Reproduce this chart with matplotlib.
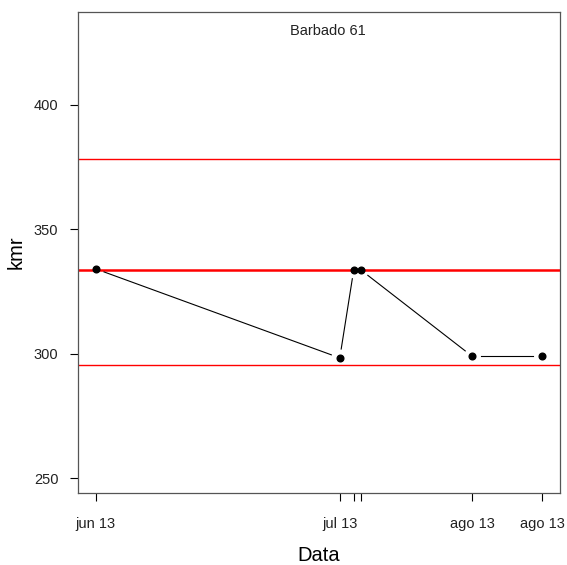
import matplotlib
matplotlib.use("Agg")
import matplotlib.pyplot as plt
import matplotlib.dates as mdates
import numpy as np
import datetime as dt

plt.rcParams['font.family'] = ['Liberation Sans', 'DejaVu Sans']

# Data
dates = [dt.date(2013, 6, 20), dt.date(2013, 7, 25), dt.date(2013, 7, 27),
         dt.date(2013, 7, 28), dt.date(2013, 8, 13), dt.date(2013, 8, 23)]
kmr = [334.1, 298.3, 333.7, 333.7, 298.9, 298.9]
tick_labels = ["jun 13", "jul 13", "", "", "ago 13", "ago 13"]
ref_lines = [378.4, 333.6, 295.3]
ref_widths = [1.0, 1.8, 1.0]
title = "Barbado 61"

W, H = 567, 565
fig = plt.figure(figsize=(W / 100, H / 100), dpi=100)
ax = fig.add_axes([77.7 / W, 1 - 493.3 / H, (560 - 77.7) / W, (493.3 - 12) / H])

x = mdates.date2num(dates)
span = x.max() - x.min()
ax.set_xlim(x.min() - 0.04 * span, x.max() + 0.04 * span)
ax.set_ylim(243.9, 437.3)

for yv, lw in zip(ref_lines, ref_widths):
    ax.axhline(yv, color='#ff0000', lw=lw, zorder=1)

# points
ax.plot(x, kmr, 'o', color='black', ms=4.8, zorder=3)

# lines with gaps around points (R type="b")
fig.canvas.draw()
disp = ax.transData.transform(np.column_stack([x, kmr]))
gap = 9.0
inv = ax.transData.inverted()
for i in range(len(x) - 1):
    p0, p1 = disp[i], disp[i + 1]
    d = p1 - p0
    L = np.hypot(*d)
    if L <= 2 * gap:
        continue
    u = d / L
    a = inv.transform(p0 + u * gap)
    b = inv.transform(p1 - u * gap)
    ax.plot([a[0], b[0]], [a[1], b[1]], color='black', lw=0.8, zorder=2)

ax.set_xticks(x)
ax.set_xticklabels(tick_labels)
ax.set_yticks([250, 300, 350, 400])
ax.tick_params(axis='both', direction='out', length=6, width=0.8, labelsize=10.5,
               color='black', labelcolor='#222222')
ax.tick_params(axis='x', pad=11)
ax.tick_params(axis='y', pad=8)
for s in ax.spines.values():
    s.set_color('#555555')
    s.set_linewidth(0.9)

ax.set_xlabel("Data", fontsize=14.5, labelpad=11)
ax.set_ylabel("kmr", fontsize=14.5, labelpad=6)
ax.text((328 - 77.7) / (560 - 77.7), 1 - (31 - 12) / (493.3 - 12), title,
        transform=ax.transAxes, ha='center', va='center', fontsize=10.5, color='#222222')

fig.savefig("out.png", dpi=100)
